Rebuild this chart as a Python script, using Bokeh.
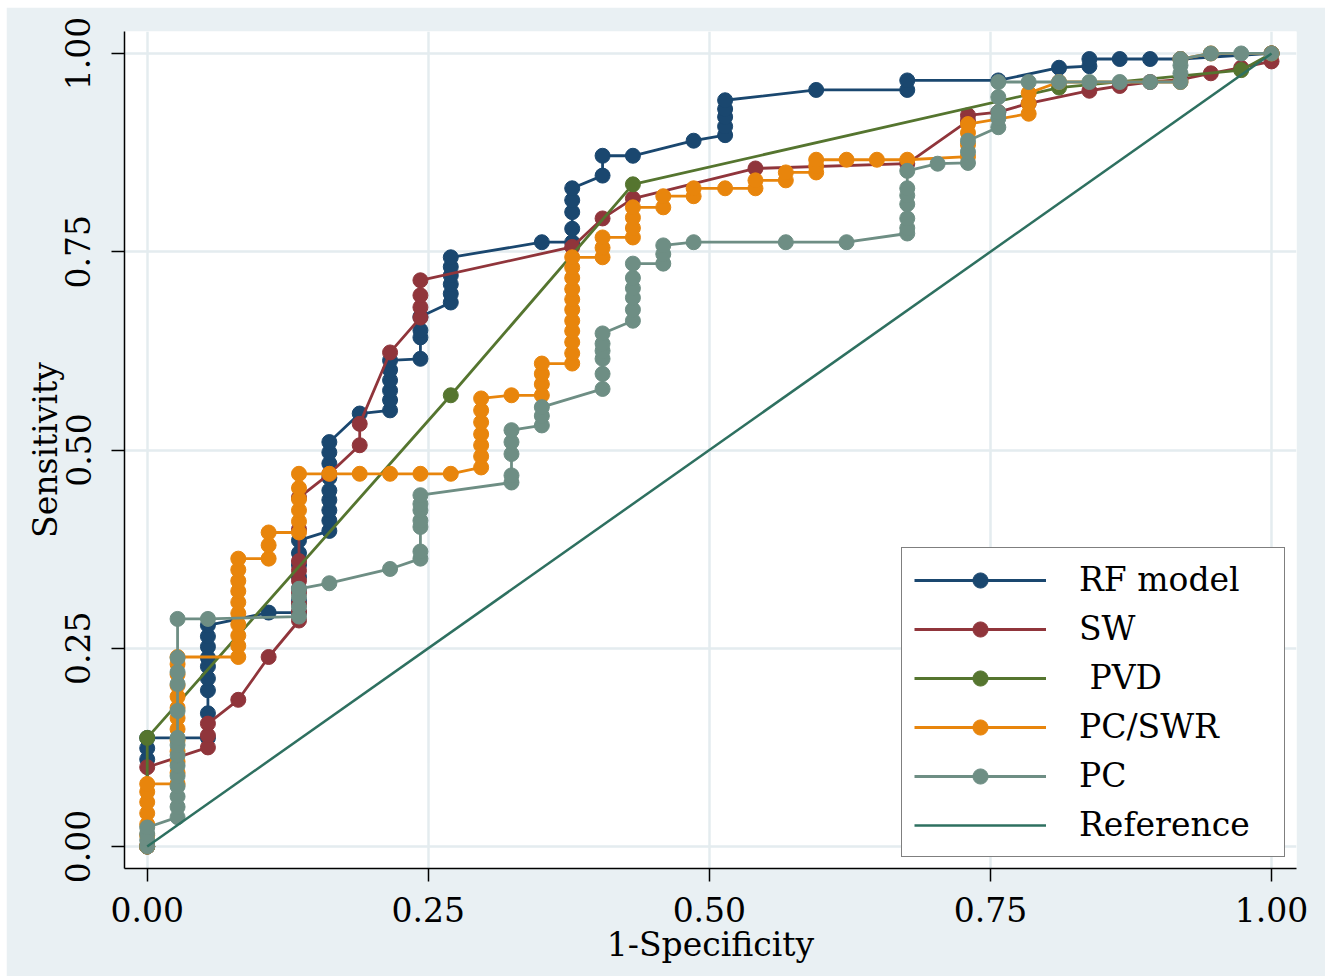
from bokeh.plotting import figure
from bokeh.models import Range1d, FixedTicker, NumeralTickFormatter
from bokeh.embed import file_html
from bokeh.resources import INLINE

# ---------------- data ----------------
tick_values = [0.0, 0.25, 0.5, 0.75, 1.0]

rf_fpr = [0, 0, 0, 0,
          0.054, 0.054, 0.054, 0.054, 0.054, 0.054, 0.054, 0.054, 0.054,
          0.108, 0.135, 0.135, 0.135, 0.135, 0.135, 0.135, 0.135,
          0.162, 0.162, 0.162, 0.162, 0.162, 0.162, 0.162, 0.162, 0.162,
          0.189, 0.216, 0.216, 0.216, 0.216, 0.216, 0.216,
          0.243, 0.243, 0.243, 0.243,
          0.270, 0.270, 0.270, 0.270, 0.270, 0.270,
          0.351, 0.378, 0.378, 0.378, 0.378, 0.378,
          0.405, 0.405, 0.432, 0.486, 0.514, 0.514, 0.514, 0.514, 0.514,
          0.595, 0.676, 0.676, 0.757, 0.811, 0.838, 0.838, 0.865, 0.892, 0.919, 1.0]
rf_sens = [0, 0.110, 0.124, 0.137,
           0.137, 0.168, 0.197, 0.212, 0.227, 0.238, 0.252, 0.265, 0.279,
           0.295, 0.295, 0.310, 0.325, 0.340, 0.355, 0.370, 0.386,
           0.398, 0.411, 0.424, 0.437, 0.449, 0.465, 0.483, 0.497, 0.510,
           0.546, 0.550, 0.563, 0.575, 0.588, 0.601, 0.613,
           0.615, 0.642, 0.651, 0.668,
           0.686, 0.697, 0.709, 0.720, 0.731, 0.743,
           0.762, 0.762, 0.779, 0.800, 0.815, 0.830,
           0.846, 0.871, 0.871, 0.890, 0.897, 0.908, 0.920, 0.930, 0.941,
           0.954, 0.954, 0.966, 0.966, 0.982, 0.984, 0.993, 0.993, 0.993, 0.993, 1.0]

sw_fpr = [0, 0, 0.054, 0.054, 0.054, 0.081, 0.108,
          0.135, 0.135, 0.135, 0.135, 0.135, 0.135, 0.135, 0.135, 0.135,
          0.162, 0.189, 0.189, 0.216, 0.243, 0.243, 0.243, 0.243,
          0.378, 0.405, 0.432, 0.541, 0.676, 0.730, 0.730, 0.757, 0.784,
          0.838, 0.865, 0.892, 0.919, 0.946, 0.973, 1.0, 1.0]
sw_sens = [0, 0.100, 0.125, 0.140, 0.155, 0.185, 0.239,
           0.285, 0.296, 0.306, 0.320, 0.335, 0.348, 0.360, 0.400, 0.440,
           0.470, 0.506, 0.533, 0.623, 0.667, 0.680, 0.695, 0.714,
           0.756, 0.792, 0.817, 0.855, 0.861, 0.915, 0.922, 0.926, 0.937,
           0.953, 0.959, 0.964, 0.967, 0.975, 0.982, 0.990, 1.0]

pvd_fpr = [0, 0, 0.270, 0.432, 0.811, 0.973, 1.0]
pvd_sens = [0, 0.137, 0.569, 0.835, 0.957, 0.979, 1.0]

pcswr_fpr = [0, 0, 0, 0, 0, 0, 0,
             0.027, 0.027, 0.027, 0.027, 0.027, 0.027, 0.027, 0.027, 0.027, 0.027, 0.027, 0.027, 0.027,
             0.081, 0.081, 0.081, 0.081, 0.081, 0.081, 0.081, 0.081, 0.081, 0.081,
             0.108, 0.108, 0.108,
             0.135, 0.135, 0.135, 0.135, 0.135, 0.135,
             0.162, 0.189, 0.216, 0.243, 0.270,
             0.297, 0.297, 0.297, 0.297, 0.297, 0.297, 0.297,
             0.324, 0.351, 0.351, 0.351, 0.351,
             0.378, 0.378, 0.378, 0.378, 0.378, 0.378, 0.378, 0.378, 0.378, 0.378, 0.378,
             0.405, 0.405, 0.405, 0.432, 0.432, 0.432, 0.432, 0.459, 0.459,
             0.486, 0.486, 0.514, 0.541, 0.541, 0.568, 0.568, 0.595, 0.595, 0.595,
             0.622, 0.649, 0.676, 0.730, 0.730, 0.730, 0.730,
             0.784, 0.784, 0.784, 0.811, 0.919, 0.919, 0.946, 1.0]
pcswr_sens = [0, 0.014, 0.028, 0.042, 0.056, 0.069, 0.079,
              0.079, 0.093, 0.107, 0.120, 0.134, 0.148, 0.162, 0.175, 0.189, 0.203, 0.217, 0.230, 0.239,
              0.239, 0.253, 0.266, 0.280, 0.294, 0.308, 0.322, 0.335, 0.349, 0.363,
              0.363, 0.380, 0.396,
              0.396, 0.410, 0.424, 0.438, 0.452, 0.470,
              0.470, 0.470, 0.470, 0.470, 0.470,
              0.478, 0.492, 0.506, 0.520, 0.535, 0.550, 0.565,
              0.569, 0.569, 0.583, 0.596, 0.609,
              0.609, 0.622, 0.636, 0.650, 0.663, 0.677, 0.690, 0.703, 0.717, 0.730, 0.743,
              0.743, 0.755, 0.768, 0.768, 0.780, 0.793, 0.806, 0.806, 0.820,
              0.820, 0.830, 0.830, 0.830, 0.840, 0.840, 0.850, 0.850, 0.858, 0.866,
              0.866, 0.866, 0.866, 0.870, 0.885, 0.900, 0.911,
              0.924, 0.937, 0.950, 0.964, 0.964, 0.993, 1.0, 1.0]

pc_fpr = [0, 0, 0, 0,
          0.027, 0.027, 0.027, 0.027, 0.027, 0.027, 0.027, 0.027, 0.027, 0.027, 0.027, 0.027, 0.027, 0.027,
          0.054, 0.135, 0.135, 0.135, 0.135, 0.162, 0.216,
          0.243, 0.243, 0.243, 0.243, 0.243, 0.243, 0.243,
          0.324, 0.324, 0.324, 0.324, 0.324, 0.351, 0.351, 0.351,
          0.405, 0.405, 0.405, 0.405, 0.405, 0.405,
          0.432, 0.432, 0.432, 0.432, 0.432, 0.432,
          0.459, 0.459, 0.459, 0.486, 0.568, 0.622,
          0.676, 0.676, 0.676, 0.676, 0.676, 0.676, 0.676,
          0.703, 0.730, 0.730, 0.730, 0.757, 0.757, 0.757, 0.757, 0.757,
          0.784, 0.811, 0.838, 0.865, 0.892, 0.919, 0.919, 0.919, 0.919,
          0.946, 0.973, 1.0]
pc_sens = [0, 0.008, 0.016, 0.024,
           0.037, 0.050, 0.063, 0.076, 0.089, 0.102, 0.115, 0.128, 0.137, 0.171, 0.205, 0.220, 0.238, 0.287,
           0.287, 0.290, 0.302, 0.315, 0.325, 0.332, 0.350,
           0.363, 0.372, 0.403, 0.411, 0.424, 0.432, 0.443,
           0.459, 0.468, 0.495, 0.510, 0.525, 0.531, 0.543, 0.554,
           0.577, 0.596, 0.615, 0.625, 0.634, 0.647,
           0.663, 0.677, 0.692, 0.704, 0.717, 0.735,
           0.735, 0.747, 0.758, 0.762, 0.762, 0.762,
           0.773, 0.780, 0.792, 0.810, 0.821, 0.830, 0.852,
           0.861, 0.862, 0.876, 0.890, 0.907, 0.918, 0.926, 0.945, 0.964,
           0.964, 0.964, 0.964, 0.964, 0.964, 0.964, 0.975, 0.985, 0.993,
           1.0, 1.0, 1.0]

ref_fpr = [0.0, 1.0]
ref_sens = [0.0, 1.0]

series = [
    ("RF model", rf_fpr, rf_sens, "#1a476f"),
    ("SW", sw_fpr, sw_sens, "#90353b"),
    (" PVD", pvd_fpr, pvd_sens, "#55752f"),
    ("PC/SWR", pcswr_fpr, pcswr_sens, "#e8850c"),
    ("PC", pc_fpr, pc_sens, "#6e8e84"),
]
ref_color = "#2e7060"

# ---------------- figure ----------------
FONT = "DejaVu Serif"
BG = "#E9F0F3"

p = figure(width=1319, height=969, output_backend="svg", toolbar_location=None,
           x_range=Range1d(-0.0202, 1.0222), y_range=Range1d(-0.0277, 1.0277))
p.margin = (7, 0, 0, 6)
p.min_border_left = 118
p.min_border_right = 29
p.min_border_top = 24
p.min_border_bottom = 108
p.border_fill_color = BG
p.background_fill_color = "white"
p.outline_line_color = None

for label, xs, ys, col in series:
    p.line(xs, ys, line_color=col, line_width=2.8, legend_label=label)
    p.scatter(xs, ys, marker="circle", size=15, fill_color=col, line_color=col,
              line_width=1, legend_label=label)
p.line(ref_fpr, ref_sens, line_color=ref_color, line_width=2.5, legend_label="Reference")

for ax in (p.xaxis[0], p.yaxis[0]):
    ax.ticker = FixedTicker(ticks=tick_values)
    ax.formatter = NumeralTickFormatter(format="0.00")
    ax.axis_line_color = "black"
    ax.axis_line_width = 1.5
    ax.major_tick_line_color = "black"
    ax.major_tick_line_width = 1.5
    ax.major_tick_out = 13
    ax.major_tick_in = 0
    ax.minor_tick_line_color = None
    ax.major_label_text_font = FONT
    ax.major_label_text_font_size = "33px"
    ax.major_label_text_color = "black"
    ax.axis_label_text_font = FONT
    ax.axis_label_text_font_size = "33px"
    ax.axis_label_text_font_style = "normal"
    ax.axis_label_text_color = "black"

p.xaxis.axis_label = "1-Specificity"
p.yaxis.axis_label = "Sensitivity"
p.xaxis.major_label_standoff = 15
p.xaxis.axis_label_standoff = 0
p.yaxis.major_label_orientation = "vertical"
p.yaxis.major_label_standoff = 21
p.yaxis.axis_label_standoff = -2

for g in (p.xgrid[0], p.ygrid[0]):
    g.ticker = FixedTicker(ticks=tick_values)
    g.grid_line_color = "#E4ECEF"
    g.grid_line_width = 2.5

lg = p.legend[0]
lg.location = "bottom_right"
lg.margin = 11
lg.padding = 12
lg.spacing = 10
lg.glyph_width = 132
lg.glyph_height = 38
lg.label_height = 38
lg.label_width = 193
lg.label_standoff = 33
lg.label_text_font = FONT
lg.label_text_font_size = "33px"
lg.label_text_color = "black"
lg.border_line_color = "black"
lg.border_line_width = 1.5
lg.background_fill_color = "white"
lg.background_fill_alpha = 1.0

open("out.html", "w").write(file_html(p, INLINE))
